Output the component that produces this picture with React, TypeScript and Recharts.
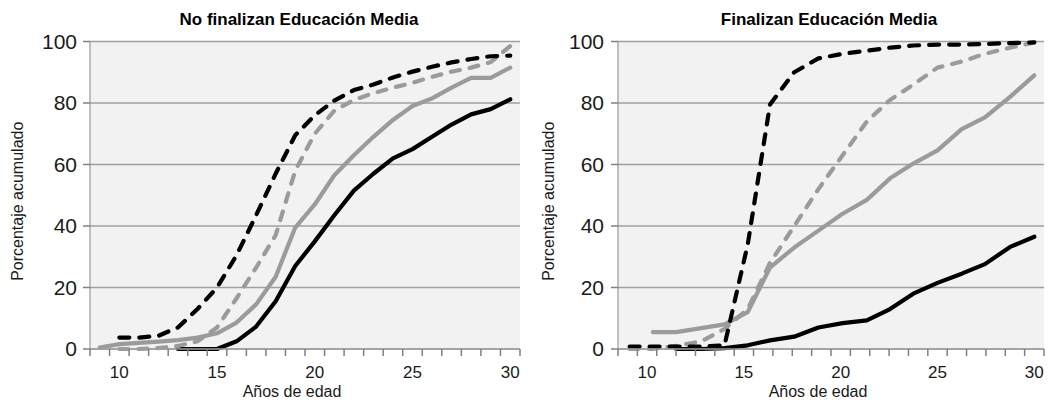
import React from "react";
import { LineChart, Line, XAxis, YAxis, CartesianGrid } from "recharts";

// Panel izquierdo: un punto por año de edad
const leftAges = [9, 10, 11, 12, 13, 14, 15, 16, 17, 18, 19, 20, 21, 22, 23, 24, 25, 26, 27, 28, 29, 30];
const leftBlackDashed = [null, 3.7, 3.7, 4.3, 7, 13, 20, 30.5, 43.5, 57, 69.5, 76, 80.8, 84.2, 86, 88.3, 90.2, 91.8, 93.2, 94.3, 95.2, 95.4];
const leftGrayDashed = [null, 0, 0, 0.3, 1, 2.5, 7, 16.5, 26.5, 37, 58, 70, 77.5, 81, 83.2, 85, 86.6, 88.5, 90.2, 91.5, 93.3, 98.5];
const leftGraySolid = [0.5, 1.6, 2, 2.4, 2.9, 3.7, 5.1, 8.6, 14.5, 23.5, 39.5, 47, 56.5, 63, 69, 74.5, 79, 81.5, 85, 88.2, 88.2, 91.5];
const leftBlackSolid = [null, null, null, null, 0, 0, 0, 2.5, 7.3, 15.5, 27, 35, 43.5, 51.5, 57, 62, 65, 69, 73, 76.3, 78, 81.2];

// Panel derecho: puntos a edades no enteras
const rightAges = [9.1, 10.3, 11.5, 12.8, 14.0, 15.2, 16.35, 17.6, 18.85, 20.1, 21.35, 22.55, 23.75, 25.0, 26.25, 27.45, 28.75, 30.0];
const rightBlackDashed = [0.8, 0.8, 0.8, 0.8, 1.2, 34, 79.5, 90, 94.5, 96, 97, 98, 98.7, 99, 99, 99.2, 99.5, 99.7];
const rightGrayDashed = [0, 0, 1, 2.5, 6.5, 13, 28, 40, 52, 63, 74, 81, 86, 91.5, 93.5, 96, 98, 99.7];
const rightGraySolid = [null, 5.5, 5.5, 6.8, 8, 12, 26.5, 33, 38.5, 44, 48.5, 55.5, 60.3, 64.6, 71.5, 75.3, 82, 89];
const rightBlackSolid = [null, null, 0, 0, 0.3, 1.2, 2.8, 4, 7, 8.4, 9.3, 13, 18, 21.5, 24.5, 27.6, 33.2, 36.5];

const yTicks = [0, 20, 40, 60, 80, 100];
const xLabels = [10, 15, 20, 25, 30];
// límites entre años, donde van las marcas del eje x
const yearEdges = Array.from({ length: 23 }, (_, i) => 8.5 + i);

const FONT = '"Liberation Sans", Arial, sans-serif';
const AXIS = "#9f9f9f";
const TICK = "#808080";
const GRAY = "#9b9b9b";
const TEXT = "#1a1a1a";
const CHART_W = 524;
const CHART_H = 406;
const RIGHT_MARGIN = 4;

function buildRows(ages: number[], bd: (number | null)[], gd: (number | null)[], gs: (number | null)[], bs: (number | null)[]) {
  return ages.map((age, i) => ({
    age,
    blackDashed: bd[i],
    grayDashed: gd[i],
    graySolid: gs[i],
    blackSolid: bs[i],
  }));
}

const leftRows = buildRows(leftAges, leftBlackDashed, leftGrayDashed, leftGraySolid, leftBlackSolid);
const rightRows = buildRows(rightAges, rightBlackDashed, rightGrayDashed, rightGraySolid, rightBlackSolid);

// etiqueta de edad + las marcas entre años que le tocan
function AgeTick(props: any) {
  const { x, y, payload, pxPerYear } = props;
  const v = Number(payload.value);
  const edges = yearEdges.filter((e) => e - v > -2.5 && e - v <= 2.5);
  return (
    <g>
      {edges.map((e) => {
        const ex = Number(x) + (e - v) * pxPerYear;
        return (
          <path
            key={e}
            d={`M${ex},${Number(y)}L${ex},${Number(y) + 7}`}
            stroke={TICK}
            strokeWidth={1.5}
            fill="none"
          />
        );
      })}
      <text x={x} y={Number(y) + 29} textAnchor="middle" fontSize={17} fill={TEXT} fontFamily={FONT}>
        {v}
      </text>
    </g>
  );
}

function PctTick(props: any) {
  const { x, y, payload, margin } = props;
  const lx = Number(x) + margin;
  return (
    <g>
      <path d={`M${lx},${Number(y)}L${lx + 7},${Number(y)}`} stroke={TICK} strokeWidth={1.5} fill="none" />
      <text x={x} y={y} dy="0.355em" textAnchor="end" fontSize={21} fill={TEXT} fontFamily={FONT}>
        {payload.value}
      </text>
    </g>
  );
}

interface PanelProps {
  left: number;
  title: string;
  titleCenter: number;
  rows: ReturnType<typeof buildRows>;
  yAxisWidth: number;
  yTitleX: number;
  tickMargin: number;
}

function Panel({ left, title, titleCenter, rows, yAxisWidth, yTitleX, tickMargin }: PanelProps) {
  const pxPerYear = (CHART_W - yAxisWidth - RIGHT_MARGIN) / 22;
  const lineProps = {
    type: "linear" as const,
    strokeWidth: 4.2,
    dot: false,
    strokeLinecap: "round" as const,
    strokeLinejoin: "round" as const,
    isAnimationActive: false,
  };
  return (
    <div style={{ position: "absolute", left, top: 0, width: CHART_W, height: CHART_H }}>
      <div
        style={{
          position: "absolute",
          left: titleCenter - 200,
          width: 400,
          top: 9,
          textAlign: "center",
          fontFamily: FONT,
          fontWeight: "bold",
          fontSize: 17,
          lineHeight: "22px",
          color: "#000",
        }}
      >
        {title}
      </div>
      <LineChart
        width={CHART_W}
        height={CHART_H}
        data={rows}
        margin={{ top: 41.5, right: RIGHT_MARGIN, bottom: 0, left: 0 }}
      >
        <CartesianGrid vertical={false} stroke={AXIS} strokeWidth={1.3} fill="#f2f2f2" fillOpacity={1} />
        <XAxis
          dataKey="age"
          type="number"
          domain={[8.5, 30.5]}
          ticks={xLabels}
          interval={0}
          height={57}
          tickSize={0}
          tickMargin={0}
          tickLine={false}
          axisLine={{ stroke: AXIS, strokeWidth: 1.3 }}
          tick={(p: any) => <AgeTick {...p} pxPerYear={pxPerYear} />}
          label={{
            value: "Años de edad",
            position: "insideBottom",
            offset: 9,
            dx: -13,
            style: { fontSize: 16, fill: TEXT, fontFamily: FONT },
          }}
        />
        <YAxis
          type="number"
          domain={[0, 100]}
          ticks={yTicks}
          interval={0}
          width={yAxisWidth}
          tickSize={7}
          tickMargin={tickMargin}
          tickLine={false}
          axisLine={{ stroke: AXIS, strokeWidth: 1.3 }}
          tick={(p: any) => <PctTick {...p} margin={tickMargin} />}
          label={{
            value: "Porcentaje acumulado",
            angle: -90,
            position: "insideLeft",
            offset: yTitleX,
            dy: 6,
            style: { textAnchor: "middle", fontSize: 16, fill: TEXT, fontFamily: FONT },
          }}
        />
        <Line {...lineProps} dataKey="blackSolid" stroke="#000" />
        <Line {...lineProps} dataKey="graySolid" stroke={GRAY} />
        <Line {...lineProps} dataKey="grayDashed" stroke={GRAY} strokeDasharray="9 10" />
        <Line {...lineProps} dataKey="blackDashed" stroke="#000" strokeDasharray="10 10" />
      </LineChart>
    </div>
  );
}

export default function App() {
  return (
    <div style={{ position: "absolute", left: 0, top: 0, width: 1048, height: 406, background: "#fff" }}>
      <Panel
        left={0}
        title="No finalizan Educación Media"
        titleCenter={299}
        rows={leftRows}
        yAxisWidth={90}
        yTitleX={17.5}
        tickMargin={6}
      />
      <Panel
        left={524}
        title="Finalizan Educación Media"
        titleCenter={305}
        rows={rightRows}
        yAxisWidth={94}
        yTitleX={24.5}
        tickMargin={7}
      />
    </div>
  );
}
